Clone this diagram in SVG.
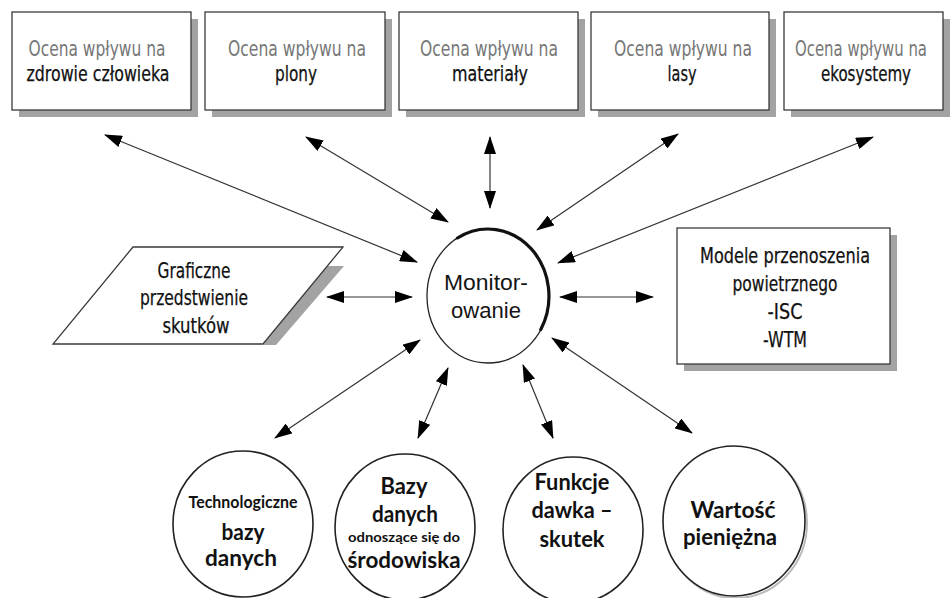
<svg xmlns="http://www.w3.org/2000/svg" width="952" height="598" viewBox="0 0 952 598">
<style>
.box{fill:#fff;stroke:#3a3a3a;stroke-width:1.3}
.shadow{fill:#a3a3a3}
.t1{font-family:"Liberation Sans Narrow","DejaVu Sans Condensed","Liberation Sans",sans-serif;font-size:21px;fill:#777;text-anchor:middle}
.t2{font-family:"Liberation Sans Narrow","DejaVu Sans Condensed","Liberation Sans",sans-serif;font-size:21px;fill:#111;stroke:#111;stroke-width:0.25;text-anchor:middle}
.tm{font-family:"Liberation Sans",Arial,sans-serif;font-size:22px;fill:#151515;text-anchor:middle}
.circ{fill:#fff;stroke:#222;stroke-width:1.6}
.tb{font-family:Lato,"Liberation Sans",sans-serif;font-weight:bold;fill:#111;text-anchor:middle}
.con line{stroke:#333;stroke-width:1.2;marker-start:url(#ah);marker-end:url(#ah)}
</style>
<defs>
<marker id="ah" viewBox="0 0 18 12" refX="17" refY="6" markerWidth="18" markerHeight="12" markerUnits="userSpaceOnUse" orient="auto-start-reverse">
<path d="M0,0 L18,6 L0,12 z" fill="#000"/>
</marker>
</defs>
<rect width="952" height="598" fill="#fff"/>

<g id="box-zdrowie">
<rect class="shadow" x="19" y="19" width="179" height="98"/>
<rect class="box" x="12" y="12" width="179" height="98"/>
<text class="t1" x="97" y="56" textLength="137" lengthAdjust="spacingAndGlyphs">Ocena wpływu na</text>
<text class="t2" x="98" y="81" textLength="143" lengthAdjust="spacingAndGlyphs">zdrowie człowieka</text>
</g>
<g id="box-plony">
<rect class="shadow" x="212" y="19" width="180" height="98"/>
<rect class="box" x="205" y="12" width="180" height="98"/>
<text class="t1" x="297" y="56" textLength="138" lengthAdjust="spacingAndGlyphs">Ocena wpływu na</text>
<text class="t2" x="296" y="81" textLength="42" lengthAdjust="spacingAndGlyphs">plony</text>
</g>
<g id="box-materialy">
<rect class="shadow" x="406" y="19" width="179" height="98"/>
<rect class="box" x="399" y="12" width="179" height="98"/>
<text class="t1" x="489" y="56" textLength="138" lengthAdjust="spacingAndGlyphs">Ocena wpływu na</text>
<text class="t2" x="490" y="81" textLength="76" lengthAdjust="spacingAndGlyphs">materiały</text>
</g>
<g id="box-lasy">
<rect class="shadow" x="598" y="19" width="178" height="98"/>
<rect class="box" x="591" y="12" width="178" height="98"/>
<text class="t1" x="683" y="56" textLength="138" lengthAdjust="spacingAndGlyphs">Ocena wpływu na</text>
<text class="t2" x="682" y="81" textLength="29" lengthAdjust="spacingAndGlyphs">lasy</text>
</g>
<g id="box-ekosystemy">
<rect class="shadow" x="791" y="19" width="159" height="98"/>
<rect class="box" x="784" y="12" width="159" height="98"/>
<text class="t1" x="861" y="56" font-size="19" textLength="132" lengthAdjust="spacingAndGlyphs">Ocena wpływu na</text>
<text class="t2" x="866" y="81" textLength="90" lengthAdjust="spacingAndGlyphs">ekosystemy</text>
</g>

<g id="graficzne">
<polygon class="shadow" points="327,266 344,266 276,345 263,345"/>
<polygon class="box" points="133,247 343,247 263,344 53,344"/>
<text class="t2" x="194" y="278" textLength="73" lengthAdjust="spacingAndGlyphs">Graficzne</text>
<text class="t2" x="194" y="305" textLength="108" lengthAdjust="spacingAndGlyphs">przedstwienie</text>
<text class="t2" x="196" y="333" textLength="67" lengthAdjust="spacingAndGlyphs">skutków</text>
</g>

<g id="modele">
<rect class="shadow" x="684" y="235" width="213" height="136"/>
<rect class="box" x="677" y="228" width="213" height="136"/>
<text class="t2" x="785" y="263" textLength="170" lengthAdjust="spacingAndGlyphs">Modele przenoszenia</text>
<text class="t2" x="785" y="291" textLength="105" lengthAdjust="spacingAndGlyphs">powietrznego</text>
<text class="t2" x="785" y="319" textLength="35" lengthAdjust="spacingAndGlyphs">-ISC</text>
<text class="t2" x="785" y="347" textLength="44" lengthAdjust="spacingAndGlyphs">-WTM</text>
</g>

<g id="monitorowanie">
<ellipse cx="488" cy="296" rx="61" ry="67" fill="#fff" stroke="#222" stroke-width="1.3"/>
<path d="M457.5,238 A61,67 0 0,1 540.8,329.5" fill="none" stroke="#111" stroke-width="3.2" stroke-linecap="round"/>
<text class="tm" x="486" y="290" textLength="84" lengthAdjust="spacingAndGlyphs">Monitor-</text>
<text class="tm" x="486" y="318" textLength="70" lengthAdjust="spacingAndGlyphs">owanie</text>
</g>

<g id="technologiczne">
<ellipse class="circ" cx="243" cy="524" rx="70" ry="73"/>
<text class="tb" x="243" y="508" font-size="17" textLength="109" lengthAdjust="spacingAndGlyphs">Technologiczne</text>
<text class="tb" x="243" y="540" font-size="23" textLength="43" lengthAdjust="spacingAndGlyphs">bazy</text>
<text class="tb" x="241" y="566" font-size="23" textLength="72" lengthAdjust="spacingAndGlyphs">danych</text>
</g>
<g id="bazy-srodowisko">
<ellipse class="circ" cx="405" cy="527" rx="70" ry="73"/>
<text class="tb" x="404" y="494" font-size="23" textLength="47" lengthAdjust="spacingAndGlyphs">Bazy</text>
<text class="tb" x="405" y="522" font-size="23" textLength="66" lengthAdjust="spacingAndGlyphs">danych</text>
<text class="tb" x="404" y="542" font-size="13" textLength="112" lengthAdjust="spacingAndGlyphs">odnoszące się do</text>
<text class="tb" x="404" y="568" font-size="23" textLength="113" lengthAdjust="spacingAndGlyphs">środowiska</text>
</g>
<g id="funkcje">
<ellipse class="circ" cx="573" cy="530" rx="70" ry="73"/>
<text class="tb" x="572" y="490" font-size="23" textLength="75" lengthAdjust="spacingAndGlyphs">Funkcje</text>
<text class="tb" x="572" y="518" font-size="23" textLength="81" lengthAdjust="spacingAndGlyphs">dawka –</text>
<text class="tb" x="572" y="547" font-size="23" textLength="65" lengthAdjust="spacingAndGlyphs">skutek</text>
</g>
<g id="wartosc">
<ellipse cx="736" cy="523" rx="71" ry="75" fill="none" stroke="#bbb" stroke-width="2"/>
<ellipse class="circ" cx="734" cy="521" rx="71" ry="75"/>
<text class="tb" x="733" y="518" font-size="23" textLength="85" lengthAdjust="spacingAndGlyphs">Wartość</text>
<text class="tb" x="730" y="545" font-size="23" textLength="94" lengthAdjust="spacingAndGlyphs">pieniężna</text>
</g>

<g id="connectors" class="con">
<line x1="105" y1="135" x2="417" y2="262"/>
<line x1="306" y1="137" x2="448" y2="222"/>
<line x1="490" y1="137" x2="490" y2="208"/>
<line x1="678" y1="134" x2="537" y2="230"/>
<line x1="873" y1="137" x2="558" y2="263"/>
<line x1="327" y1="297" x2="412" y2="297"/>
<line x1="560" y1="297" x2="653" y2="297"/>
<line x1="420" y1="340" x2="275" y2="438"/>
<line x1="448" y1="368" x2="418" y2="438"/>
<line x1="523" y1="365" x2="553" y2="438"/>
<line x1="552" y1="338" x2="692" y2="433"/>
</g>
</svg>
